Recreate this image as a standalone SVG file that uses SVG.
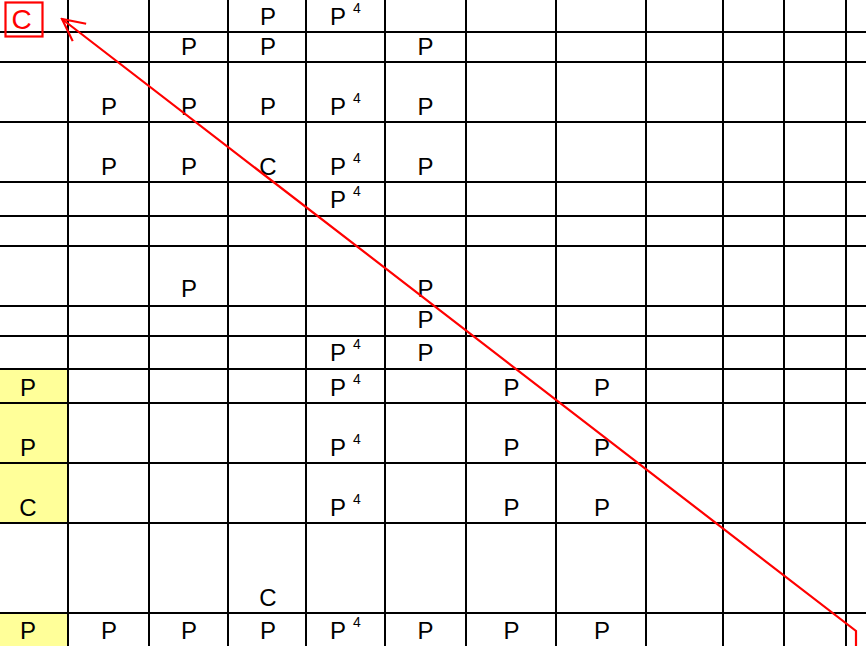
<svg xmlns="http://www.w3.org/2000/svg" width="866" height="646" viewBox="0 0 866 646">
<style>
.g{stroke:#000;stroke-width:2;fill:none}
.t{font-family:"Liberation Sans",Arial,sans-serif;font-size:24px;fill:#000;text-anchor:middle}
.s{font-family:"Liberation Sans",Arial,sans-serif;font-size:14px;fill:#000;text-anchor:middle}
.y{fill:#ffff99}
.r{stroke:#ff0000;stroke-width:2.2;fill:none}
</style>
<defs>
<marker id="ah" markerUnits="userSpaceOnUse" viewBox="-26 -14 28 28" refX="0" refY="0" markerWidth="28" markerHeight="28" orient="auto">
<path d="M-22,-11 L0,0 L-22,11" class="r"/>
</marker>
</defs>
<rect width="866" height="646" fill="#fff"/>
<g id="highlights">
<rect class="y" x="0" y="369" width="68" height="154"/>
<rect class="y" x="0" y="613" width="68" height="33"/>
</g>
<g id="grid" class="g">
<path d="M0,32H866M0,62H866M0,122H866M0,182H866M0,216H866M0,246H866M0,306H866M0,336H866M0,369H866M0,403H866M0,463H866M0,523H866M0,613H866"/>
<path d="M68,0V646M149,0V646M228,0V646M306,0V646M385,0V646M466,0V646M556,0V646M646,0V646M723,0V646M784,0V646M846,0V646"/>
</g>
<g id="start-node">
<rect class="r" x="5.5" y="2.5" width="37" height="34"/>
<text x="21.5" y="29" style="font-family:'Liberation Sans',Arial,sans-serif;font-size:28px;fill:#ff0000;text-anchor:middle">C</text>
</g>
<g id="row0"><text class="t" x="268" y="25">P</text><text class="t" x="338" y="25">P</text><text class="s" x="357" y="13">4</text></g>
<g id="row1"><text class="t" x="189" y="55">P</text><text class="t" x="268" y="55">P</text><text class="t" x="425.5" y="55">P</text></g>
<g id="row2"><text class="t" x="109" y="115">P</text><text class="t" x="189" y="115">P</text><text class="t" x="268" y="115">P</text><text class="t" x="338" y="115">P</text><text class="s" x="357" y="103">4</text><text class="t" x="425.5" y="115">P</text></g>
<g id="row3"><text class="t" x="109" y="175">P</text><text class="t" x="189" y="175">P</text><text class="t" x="268" y="175">C</text><text class="t" x="338" y="175">P</text><text class="s" x="357" y="163">4</text><text class="t" x="425.5" y="175">P</text></g>
<g id="row4"><text class="t" x="338" y="208">P</text><text class="s" x="357" y="196">4</text></g>
<g id="row6"><text class="t" x="189" y="297">P</text><text class="t" x="425.5" y="297">P</text></g>
<g id="row7"><text class="t" x="425.5" y="328">P</text></g>
<g id="row8"><text class="t" x="338" y="361">P</text><text class="s" x="357" y="349">4</text><text class="t" x="425.5" y="361">P</text></g>
<g id="row9"><text class="t" x="28" y="396">P</text><text class="t" x="338" y="396">P</text><text class="s" x="357" y="384">4</text><text class="t" x="511.5" y="396">P</text><text class="t" x="602" y="396">P</text></g>
<g id="row10"><text class="t" x="28" y="456">P</text><text class="t" x="338" y="456">P</text><text class="s" x="357" y="444">4</text><text class="t" x="511.5" y="456">P</text><text class="t" x="602" y="456">P</text></g>
<g id="row11"><text class="t" x="28" y="516">C</text><text class="t" x="338" y="516">P</text><text class="s" x="357" y="504">4</text><text class="t" x="511.5" y="516">P</text><text class="t" x="602" y="516">P</text></g>
<g id="row12"><text class="t" x="268" y="606">C</text></g>
<g id="row13"><text class="t" x="28" y="639">P</text><text class="t" x="109" y="639">P</text><text class="t" x="189" y="639">P</text><text class="t" x="268" y="639">P</text><text class="t" x="338" y="639">P</text><text class="s" x="357" y="627">4</text><text class="t" x="425.5" y="639">P</text><text class="t" x="511.5" y="639">P</text><text class="t" x="602" y="639">P</text></g>
<g id="connectors">
<path class="r" d="M856,650 L856,631 L62,19" marker-end="url(#ah)"/>
</g>
</svg>
